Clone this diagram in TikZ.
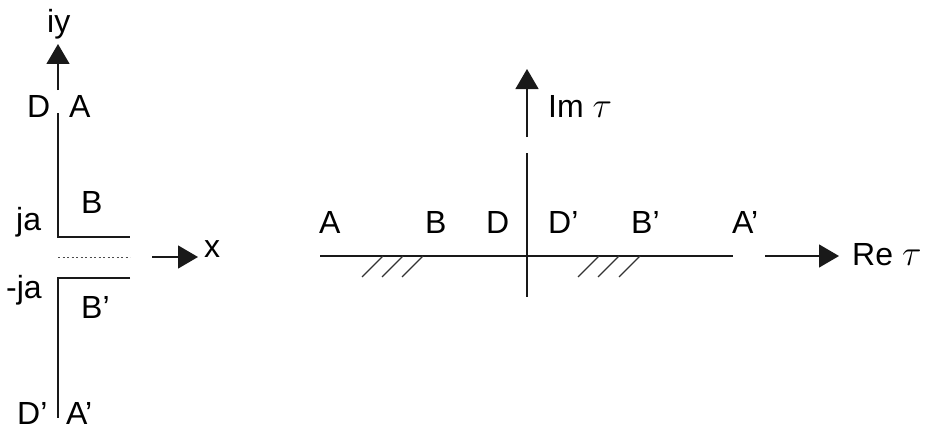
\documentclass[tikz,border=0pt]{standalone}
\usepackage{fontspec}
\setmainfont{Liberation Sans}
\usetikzlibrary{arrows.meta}
\newcommand{\mytau}{\scalebox{1.45}{$\tau$}}
\begin{document}
\begin{tikzpicture}[x=1pt,y=-1pt,
  ln/.style={line width=1.4pt,black!90},
  arr/.style={ln,-{Triangle[length=20pt,width=23pt]}},
  hatch/.style={line width=1.1pt,black!80},
  lbl/.style={inner sep=0pt,anchor=base west,font=\fontsize{32}{38}\selectfont}]
\useasboundingbox (0,0) rectangle (942,428);
% ---------- left panel ----------
\coordinate (yb) at (58,90);
\coordinate (yt) at (58,44);
\coordinate (ut) at (58,113);
\coordinate (uc) at (58,237);
\coordinate (ue) at (130,237);
\coordinate (le) at (130,278);
\coordinate (lc) at (58,278);
\coordinate (lb) at (58,418);
\coordinate (ds) at (58,257);
\coordinate (de) at (130,257);
\coordinate (xs) at (152,257);
\coordinate (xe) at (198,257);
\draw[arr] (yb) -- (yt);
\draw[ln] (ut) -- (uc) -- (ue);
\draw[ln] (le) -- (lc) -- (lb);
\draw[line width=1pt,black!70,dash pattern=on 2pt off 2.5pt] (ds) -- (de);
\draw[arr] (xs) -- (xe);
\node[lbl] (iy) at (47,33) {iy};
\node[lbl] (LD) at (27,117) {D};
\node[lbl] (LA) at (69,117) {A};
\node[lbl] (LB) at (81,213) {B};
\node[lbl] (ja) at (16,230) {ja};
\node[lbl] (x) at (204,257) {x};
\node[lbl] (mja) at (6,298) {-ja};
\node[lbl] (LBp) at (81,318) {B'};
\node[lbl] (LDp) at (17,424) {D'};
\node[lbl] (LAp) at (66,424) {A'};
% ---------- right panel ----------
\coordinate (ib) at (527,137);
\coordinate (it) at (527,69);
\coordinate (vs) at (527,153);
\coordinate (ve) at (527,297);
\coordinate (hs) at (320,256);
\coordinate (he) at (733,256);
\coordinate (rs) at (765,256);
\coordinate (re) at (839,256);
\draw[arr] (ib) -- (it);
\draw[ln] (vs) -- (ve);
\draw[ln] (hs) -- (he);
\draw[arr] (rs) -- (re);
\foreach \a in {362,382,402} \draw[hatch] (\a,277) -- (\a+21,256);
\foreach \a in {578,598,619} \draw[hatch] (\a,277) -- (\a+21,256);
\node[lbl] (Im) at (548,117) {Im \mytau};
\node[lbl] (Re) at (852,265) {Re \mytau};
\node[lbl] (RA) at (319,233) {A};
\node[lbl] (RB) at (425,233) {B};
\node[lbl] (RD) at (486,233) {D};
\node[lbl] (RDp) at (548,233) {D'};
\node[lbl] (RBp) at (631,233) {B'};
\node[lbl] (RAp) at (732,233) {A'};
\end{tikzpicture}
\end{document}
